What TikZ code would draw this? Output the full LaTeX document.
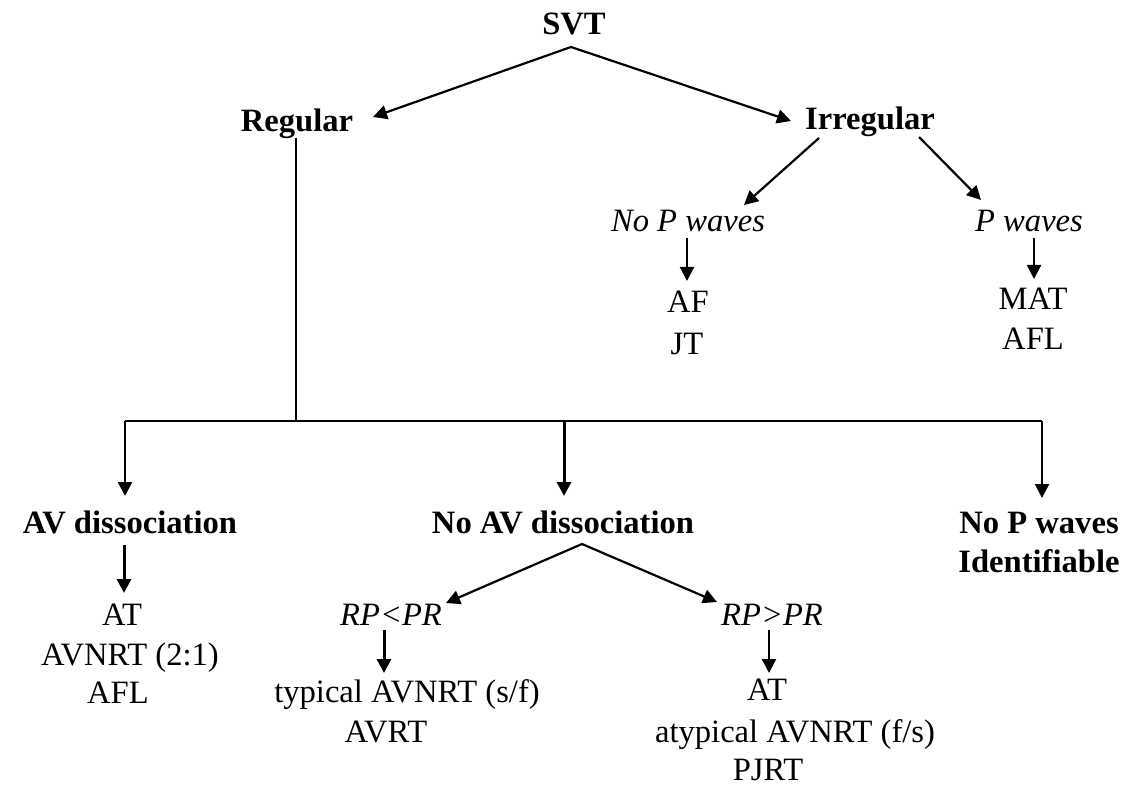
\documentclass[tikz,border=0pt]{standalone}
\usepackage{fontspec}
\setmainfont{Liberation Serif}
\usetikzlibrary{arrows.meta}
\begin{document}
\begin{tikzpicture}[x=0.5pt,y=-0.5pt,
  every node/.style={inner sep=0pt,anchor=base,font=\fontsize{16.3}{19}\selectfont},
  bt/.style={font=\fontsize{16.3}{19}\selectfont\bfseries},
  it/.style={font=\fontsize{16.3}{19}\selectfont\itshape},
  conn/.style={line width=1.1pt},
  arr/.style={line width=1.1pt,-{Triangle[length=7pt,width=7pt]}},
  thickarr/.style={line width=1.5pt,-{Triangle[length=7pt,width=7pt]}}]
\useasboundingbox[fill=white] (0,0) rectangle (1127,790);

% nodes
\node[bt] (svt) at (574,35) {SVT};
\node[bt] (reg) at (297,132) {Regular};
\node[bt] (irr) at (870,130) {Irregular};
\node[it] (nop) at (688,232) {No P waves};
\node[it] (pw) at (1029,232) {P waves};
\node (af) at (688,313) {AF};
\node (jt) at (687,355) {JT};
\node (mat) at (1033,310) {MAT};
\node (afla) at (1033,350) {AFL};
\node[bt] (avd) at (130,533) {AV dissociation};
\node[bt] (noavd) at (563,533) {No AV dissociation};
\node[bt] (nopwa) at (1039,533) {No P waves};
\node[bt] (nopwb) at (1039,572) {Identifiable};
\node (ata) at (122,625) {AT};
\node (avnrt) at (130,665) {AVNRT (2:1)};
\node (aflb) at (118,703) {AFL};
\node[it] (rplt) at (391,625) {RP<PR};
\node (typ) at (407,702) {typical AVNRT (s/f)};
\node (avrt) at (386,742) {AVRT};
\node[it] (rpgt) at (772,625) {RP>PR};
\node (atb) at (767,700) {AT};
\node (atyp) at (795,742) {atypical AVNRT (f/s)};
\node (pjrt) at (768,780) {PJRT};

% connector end points
\coordinate (svtfork) at (571,47);
\coordinate (regin) at (373,117);
\coordinate (irrin) at (791,121);
\coordinate (irrl) at (819,138);
\coordinate (nopin) at (744,205);
\coordinate (irrr) at (919,137);
\coordinate (pwin) at (981,200);
\coordinate (nopout) at (687,238);
\coordinate (afin) at (687,281);
\coordinate (pwout) at (1034,238);
\coordinate (matin) at (1034,279);
\coordinate (regout) at (296,138);
\coordinate (hmid) at (296,421);
\coordinate (hl) at (125,421);
\coordinate (hc) at (564,421);
\coordinate (hr) at (1042,421);
\coordinate (avdin) at (125,496);
\coordinate (noavdin) at (564,496);
\coordinate (nopwin) at (1042,498);
\coordinate (avdout) at (124,545);
\coordinate (atain) at (124,593);
\coordinate (noavdfork) at (582,544);
\coordinate (rpltin) at (446,603);
\coordinate (rpgtin) at (717,602);
\coordinate (rpltout) at (384,630);
\coordinate (typin) at (384,673);
\coordinate (rpgtout) at (769,630);
\coordinate (atbin) at (769,673);

% connectors
\draw[arr] (svtfork) -- (regin);
\draw[arr] (svtfork) -- (irrin);
\draw[arr] (irrl) -- (nopin);
\draw[arr] (irrr) -- (pwin);
\draw[arr] (nopout) -- (afin);
\draw[arr] (pwout) -- (matin);
\draw[conn] (regout) -- (hmid);
\draw[conn] (hl) -- (hr);
\draw[arr] (hl) -- (avdin);
\draw[thickarr] (hc) -- (noavdin);
\draw[arr] (hr) -- (nopwin);
\draw[thickarr] (avdout) -- (atain);
\draw[arr] (noavdfork) -- (rpltin);
\draw[arr] (noavdfork) -- (rpgtin);
\draw[thickarr] (rpltout) -- (typin);
\draw[arr] (rpgtout) -- (atbin);
\end{tikzpicture}
\end{document}
